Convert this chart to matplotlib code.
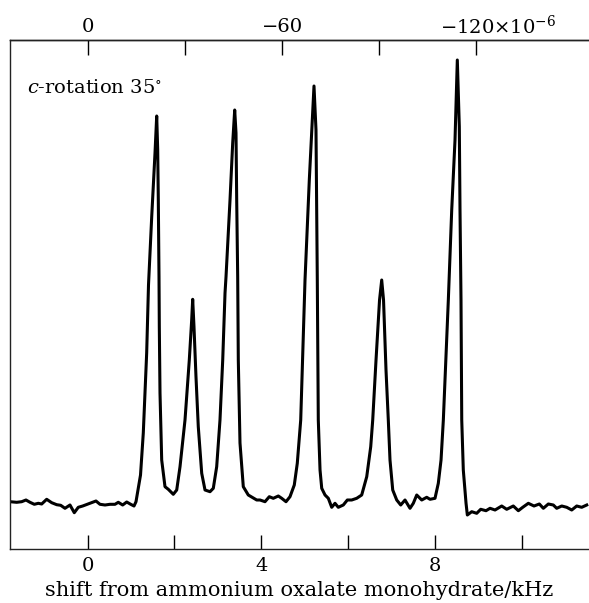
import matplotlib
matplotlib.use("Agg")
import matplotlib.pyplot as plt
import numpy as np

# Spectrum: shift (kHz) and relative intensity
shift_khz = [
    -1.790, -1.636, -1.521, -1.422, -1.329, -1.230, -1.138, -1.060, -0.945, -0.829,
    -0.714, -0.622, -0.523, -0.408, -0.309, -0.217, -0.115, -0.009, 0.092, 0.191,
    0.283, 0.399, 0.514, 0.629, 0.705, 0.806, 0.899, 0.991, 1.067, 1.113,
    1.159, 1.217, 1.281, 1.359, 1.401, 1.475, 1.551, 1.590, 1.613, 1.627,
    1.643, 1.650, 1.666, 1.705, 1.781, 1.857, 1.972, 2.051, 2.127, 2.242,
    2.341, 2.396, 2.419, 2.449, 2.495, 2.548, 2.627, 2.703, 2.818, 2.894,
    2.972, 3.048, 3.111, 3.164, 3.187, 3.279, 3.341, 3.387, 3.417, 3.433,
    3.456, 3.470, 3.509, 3.585, 3.700, 3.894, 3.970, 4.085, 4.184, 4.276,
    4.392, 4.470, 4.569, 4.661, 4.760, 4.829, 4.876, 4.908, 5.007, 5.106,
    5.184, 5.214, 5.260, 5.276, 5.290, 5.313, 5.353, 5.392, 5.468, 5.544,
    5.622, 5.698, 5.774, 5.889, 5.982, 6.083, 6.198, 6.313, 6.429, 6.521,
    6.567, 6.643, 6.724, 6.774, 6.816, 6.873, 6.926, 6.965, 7.028, 7.120,
    7.212, 7.311, 7.426, 7.502, 7.581, 7.696, 7.811, 7.887, 8.002, 8.078,
    8.141, 8.194, 8.309, 8.387, 8.463, 8.516, 8.562, 8.578, 8.601, 8.618,
    8.654, 8.717, 8.747, 8.848, 8.963, 9.055, 9.177, 9.270, 9.385, 9.539,
    9.654, 9.806, 9.922, 10.023, 10.152, 10.283, 10.406, 10.498, 10.613, 10.728,
    10.806, 10.922, 11.037, 11.152, 11.267, 11.382, 11.498,
]
intensity = [
    -1.7, -2.3, -1.7, 0.0, -2.3, -4.3, -3.3, -4.0, 0.7, -2.7,
    -4.7, -5.3, -8.3, -5.0, -12.7, -7.3, -6.0, -4.3, -2.7, -1.0,
    -4.3, -5.0, -4.3, -4.3, -2.3, -5.0, -2.0, -4.3, -6.0, -1.7,
    10.0, 25.0, 67.0, 147.0, 215.0, 283.3, 347.0, 384.0, 350.0, 300.0,
    223.3, 173.3, 107.0, 40.0, 13.3, 10.7, 5.7, 10.0, 33.3, 80.0,
    140.0, 180.0, 200.7, 173.3, 123.3, 73.3, 26.7, 10.0, 8.3, 11.7,
    33.3, 80.0, 140.0, 207.0, 223.3, 300.0, 357.0, 390.0, 367.0, 300.0,
    223.3, 140.0, 57.0, 13.3, 5.0, 0.0, 0.0, -1.7, 3.3, 1.7,
    4.0, 1.7, -1.7, 3.3, 15.0, 36.7, 63.3, 80.0, 220.0, 320.0,
    387.0, 414.0, 370.0, 287.0, 220.0, 80.0, 30.0, 11.7, 5.0, 1.7,
    -7.3, -3.3, -7.3, -5.0, 0.0, 0.0, 1.7, 5.0, 23.3, 53.3,
    80.0, 140.0, 200.0, 220.0, 200.0, 130.0, 80.0, 40.0, 10.0, 0.0,
    -5.0, 0.0, -8.3, -3.3, 5.0, 0.0, 2.7, 0.7, 1.7, 16.7,
    40.0, 80.0, 200.0, 290.0, 360.0, 440.0, 373.3, 290.0, 200.0, 80.0,
    30.0, -3.3, -15.0, -11.7, -13.3, -9.3, -10.7, -8.3, -10.0, -6.0,
    -9.3, -6.0, -10.7, -7.3, -3.3, -6.0, -4.0, -8.3, -4.0, -5.0,
    -8.3, -6.0, -7.3, -10.0, -6.0, -7.3, -5.0,
]

bottom_major = [0, 4, 8]
bottom_minor = [2, 6, 10]
top_major = [0, -60, -120]
top_minor = [-30, -90]
ppm_per_khz = 13.4

plt.rcParams['font.family'] = ['DejaVu Serif']
plt.rcParams['mathtext.fontset'] = 'dejavuserif'

fig = plt.figure(figsize=(5.89, 6.03), dpi=100)
ax = fig.add_axes([10/589, 54/603, 579/589, 509/603])

ax.plot(shift_khz, intensity, color='black', lw=2.2, solid_joinstyle='round')
ax.set_xlim(-1.79, 11.55)
ax.set_ylim(-49, 460)

for s in ['left', 'top', 'bottom']:
    ax.spines[s].set_linewidth(1.0)
    ax.spines[s].set_color('#222222')
ax.spines['right'].set_visible(False)

ax.set_yticks([])
ax.set_xticks(bottom_major)
ax.set_xticks(bottom_minor, minor=True)
ax.set_xticklabels([str(v) for v in bottom_major])
ax.tick_params(axis='x', which='both', direction='in', length=10, width=1.0,
               labelsize=14, pad=6)
ax.set_xlabel('shift from ammonium oxalate monohydrate/kHz', fontsize=15, labelpad=4)

sec = ax.secondary_xaxis('top', functions=(lambda x: -ppm_per_khz * np.asarray(x),
                                           lambda p: -np.asarray(p) / ppm_per_khz))
sec.set_xticks(top_major)
sec.set_xticks(top_minor, minor=True)
sec.set_xticklabels(['0', '\u221260', ''])
sec.tick_params(axis='x', which='both', direction='in', length=11, width=1.0,
                labelsize=14, pad=3)
sec.spines['top'].set_linewidth(1.0)

ax.text(8.12, 1.0 + 2/509, '\u2212120\u00d710$^{-6}$', transform=ax.get_xaxis_transform(),
        ha='left', va='bottom', fontsize=14)

ax.text(0.029, 0.906, '$c$-rotation 35$^{\\circ}$', transform=ax.transAxes,
        ha='left', va='center', fontsize=14)

fig.savefig('out.png', dpi=100)
